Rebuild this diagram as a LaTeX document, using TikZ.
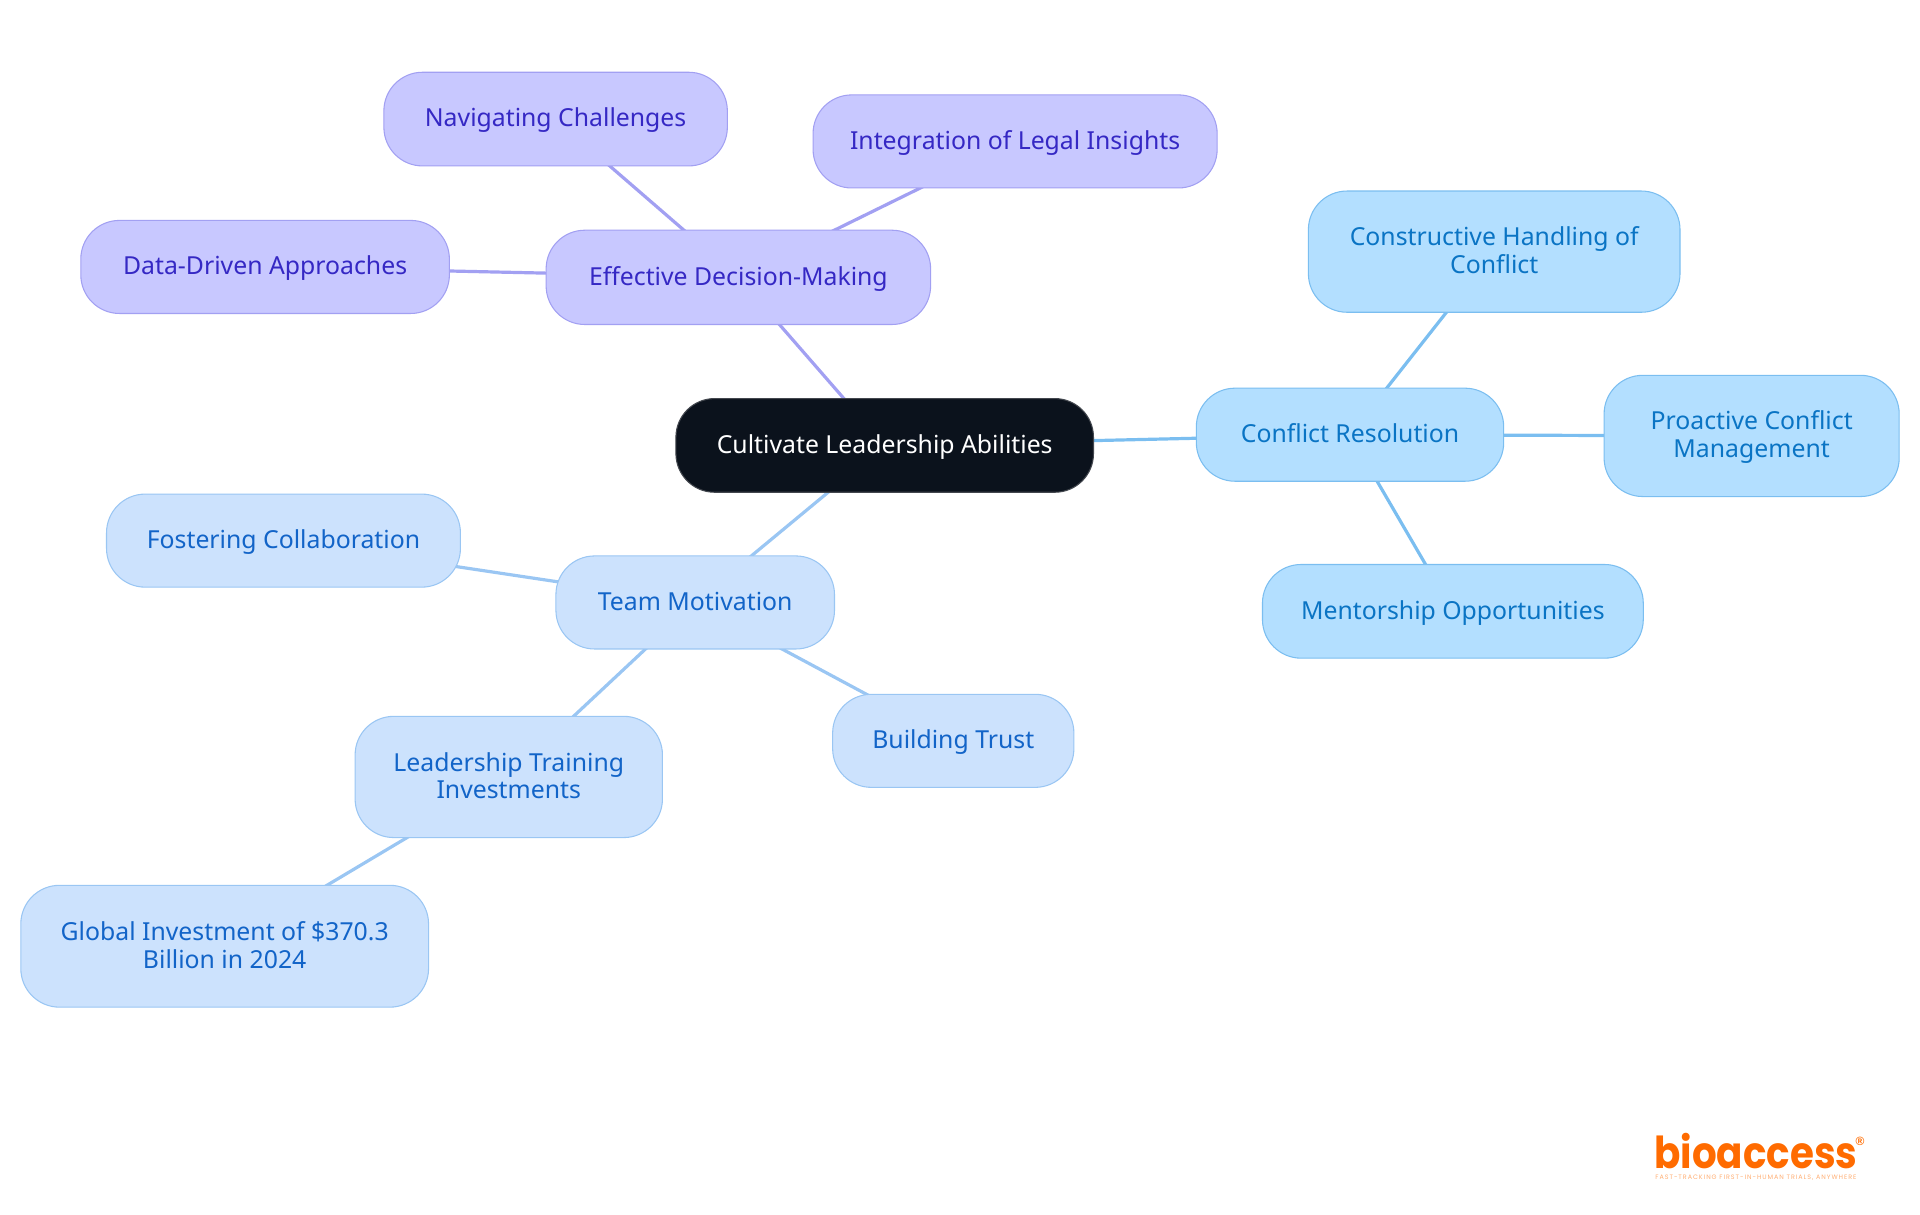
\documentclass[tikz,border=0pt]{standalone}
\usepackage{fontspec}
\setmainfont{Noto Sans}
\newfontfamily\logofont{Poppins}
\newfontfamily\tagfont[LetterSpace=15]{Poppins}
\newfontfamily\regfont{Liberation Sans}
\usetikzlibrary{backgrounds}
\definecolor{cdark}{HTML}{0B121C}
\definecolor{cdarkb}{HTML}{43474E}
\definecolor{pfill}{HTML}{C8C8FF}
\definecolor{pline}{HTML}{A2A0F2}
\definecolor{ptext}{HTML}{3528C4}
\definecolor{bfill}{HTML}{CCE2FD}
\definecolor{bline}{HTML}{9AC6F3}
\definecolor{btext}{HTML}{1264C8}
\definecolor{sfill}{HTML}{B3DFFF}
\definecolor{sline}{HTML}{7BBEF0}
\definecolor{stext}{HTML}{0A74C4}
\definecolor{orangeb}{HTML}{FF6B00}
\newcommand{\tophold}{\rule{0pt}{16pt}}
\newcommand{\bothold}{\rule[-4pt]{0pt}{4pt}}
\tikzset{
  x=0.9184pt,y=-0.9184pt,
  mbox/.style={rounded corners=29pt,line width=0.8pt,align=center,inner sep=0pt,
    font=\fontsize{18.6}{20.66}\selectfont},
  central/.style={mbox,fill=cdark,draw=cdarkb,text=white},
  purple/.style={mbox,fill=pfill,draw=pline,text=ptext},
  lblue/.style={mbox,fill=bfill,draw=bline,text=btext},
  sky/.style={mbox,fill=sfill,draw=sline,text=stext},
  plink/.style={draw=pline,line width=2.4pt},
  blink/.style={draw=bline,line width=2.4pt},
  slink/.style={draw=sline,line width=2.4pt},
}
\newcommand{\mnode}[7]{% style,name,x0,x1,y0,y1,text
  \pgfmathsetmacro{\mw}{(#4-#3)*0.9184}\pgfmathsetmacro{\mh}{(#6-#5)*0.9184}
  \pgfmathsetmacro{\mx}{(#3+#4)/2}\pgfmathsetmacro{\my}{(#5+#6)/2}
  \node[#1,minimum width=\mw pt,minimum height=\mh pt] (#2) at (\mx,\my) {\tophold #7\bothold};
}
\begin{document}
\begin{tikzpicture}
\useasboundingbox (0,0) rectangle (1568,992.2);
\mnode{central}{root}{552}{893}{325.5}{402}{Cultivate Leadership Abilities}
\mnode{purple}{eff}{446}{760}{188}{265}{Effective Decision-Making}
\mnode{purple}{nav}{313.5}{594}{59}{135.5}{Navigating Challenges}
\mnode{purple}{integ}{664}{994}{77.5}{153.5}{Integration of Legal Insights}
\mnode{purple}{data}{66}{367}{180}{256}{Data-Driven Approaches}
\mnode{sky}{conf}{977}{1228}{317}{393}{Conflict Resolution}
\mnode{sky}{cons}{1068.5}{1372}{156}{255}{Constructive Handling of\\Conflict}
\mnode{sky}{proa}{1310}{1551}{306.5}{405.5}{Proactive Conflict\\Management}
\mnode{sky}{ment}{1031}{1342}{461}{537.5}{Mentorship Opportunities}
\mnode{lblue}{team}{454}{681.5}{454}{530}{Team Motivation}
\mnode{lblue}{fost}{87}{376}{403.5}{479.5}{Fostering Collaboration}
\mnode{lblue}{trust}{680}{877}{567}{643}{Building Trust}
\mnode{lblue}{lead}{290}{541}{585}{684}{Leadership Training\\Investments}
\mnode{lblue}{glob}{17}{350}{723}{822.5}{Global Investment of \$370.3\\Billion in 2024}
\begin{scope}[on background layer]
\draw[plink] (root.center) -- (eff.center);
\draw[plink] (eff.center) -- (nav.center);
\draw[plink] (eff.center) -- (integ.center);
\draw[plink] (eff.center) -- (data.center);
\draw[slink] (root.center) -- (conf.center);
\draw[slink] (conf.center) -- (cons.center);
\draw[slink] (conf.center) -- (proa.center);
\draw[slink] (conf.center) -- (ment.center);
\draw[blink] (root.center) -- (team.center);
\draw[blink] (team.center) -- (fost.center);
\draw[blink] (team.center) -- (trust.center);
\draw[blink] (team.center) -- (lead.center);
\draw[blink] (lead.center) -- (glob.center);
\end{scope}
\node[anchor=base,text=orangeb,inner sep=0pt,font=\logofont\bfseries\fontsize{30}{30}\selectfont] (logo) at (1434,954.5) {\scalebox{0.97}[1.1]{bioaccess}};
\node[text=orangeb,inner sep=0pt,font=\regfont\bfseries\fontsize{9}{10}\selectfont] (reg) at (1519,932) {®};
\node[anchor=base,text=orangeb!55,inner sep=0pt,font=\tagfont\fontsize{4.8}{5}\selectfont] (tag) at (1434,963) {FAST-TRACKING FIRST-IN-HUMAN TRIALS, ANYWHERE};
\end{tikzpicture}
\end{document}
